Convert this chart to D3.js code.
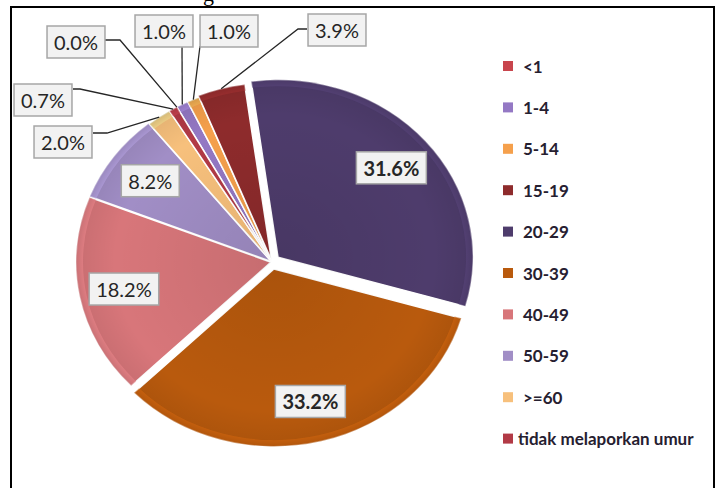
<!DOCTYPE html>
<html>
<head>
<meta charset="utf-8">
<script src="https://cdn.jsdelivr.net/npm/d3@7"></script>
<style>
  body { margin: 0; background: #fff; }
  svg { display: block; }
</style>
</head>
<body>
<script>
// data
var categories = ["<1", "1-4", "5-14", "15-19", "20-29", "30-39", "40-49", "50-59", ">=60", "tidak melaporkan umur"];
var values = [0.0, 1.0, 1.0, 3.9, 31.6, 33.2, 18.2, 8.2, 2.0, 0.7];
var labels = ["0.0%", "1.0%", "1.0%", "3.9%", "31.6%", "33.2%", "18.2%", "8.2%", "2.0%", "0.7%"];
var colors = ["#c8454d", "#9478c4", "#f5a04c", "#8e2b2c", "#4e3c6c", "#b95a0d", "#d8767a", "#a18ec6", "#f7c07c", "#b23a46"];

// chart layout
var W = 716, H = 488;
var cx = 272, cy = 262, R = 195, tilt = 0.91;
var startDeg = -29.2;
var explode = [0, 0, 0, 2, 8, 8, 1, 1, 0, 0];
// which labels sit inside the slice (true) or outside in a box with a leader line
var inside = [false, false, false, false, true, true, true, true, false, false];
// outside label boxes: centre, leader anchor offset, horizontal elbow length
var outside = {
  0: {x: 76,  y: 42,  ax: 29,  ay: -2,  elbow: 15},
  1: {x: 164, y: 31,  ax: 18,  ay: 15,  elbow: 0},
  2: {x: 229, y: 31,  ax: -29, ay: 15,  elbow: 0},
  3: {x: 337, y: 30,  ax: -30, ay: -1,  elbow: -9},
  8: {x: 63,  y: 142, ax: 30,  ay: -9,  elbow: 14},
  9: {x: 43,  y: 100, ax: 30,  ay: -11, elbow: 7}
};

var svg = d3.select("body").append("svg")
    .attr("width", W)
    .attr("height", H);

// frame around the picture
svg.append("rect")
    .attr("x", 11).attr("y", 7)
    .attr("width", 703).attr("height", 490)
    .attr("fill", "none")
    .attr("stroke", "#000")
    .attr("stroke-width", 2);

// cut-off caption above the frame (only its descender shows in the reference)
svg.append("text")
    .attr("x", 203).attr("y", 1)
    .style("font-family", "'Liberation Serif', serif")
    .style("font-size", "22px")
    .attr("fill", "#000")
    .text("g");

var pie = d3.pie()
    .sort(null)
    .value(function(d) { return d; })
    .startAngle(startDeg * Math.PI / 180)
    .endAngle(startDeg * Math.PI / 180 + 2 * Math.PI);

var arcs = pie(values);
var arc = d3.arc().innerRadius(0).outerRadius(R);
var rim = d3.arc().innerRadius(R - 7).outerRadius(R);

var pieG = svg.append("g")
    .attr("transform", "translate(" + cx + "," + cy + ") scale(1," + tilt + ")");

var slice = pieG.selectAll("g.slice")
    .data(arcs)
    .enter().append("g")
    .attr("class", "slice")
    .attr("transform", function(d, i) {
      var m = (d.startAngle + d.endAngle) / 2;
      return "translate(" + (explode[i] * Math.sin(m)) + "," + (-explode[i] * Math.cos(m)) + ")";
    });

slice.append("path")
    .attr("d", arc)
    .attr("fill", function(d, i) { return colors[i]; })
    .attr("stroke", "#fff")
    .attr("stroke-width", 1.5)
    .attr("vector-effect", "non-scaling-stroke");

// lighter bevel along the outer edge
slice.append("path")
    .attr("d", rim)
    .attr("fill", function(d, i) { return d3.color(colors[i]).brighter(0.6); })
    .attr("opacity", 0.55);

// soft shading toward the centre
var defs = svg.append("defs");
var grad = defs.append("radialGradient")
    .attr("id", "shade")
    .attr("gradientUnits", "userSpaceOnUse")
    .attr("cx", 0).attr("cy", 0).attr("r", R);
grad.append("stop").attr("offset", "0%").attr("stop-color", "#000").attr("stop-opacity", 0.08);
grad.append("stop").attr("offset", "80%").attr("stop-color", "#000").attr("stop-opacity", 0);
grad.append("stop").attr("offset", "96%").attr("stop-color", "#000").attr("stop-opacity", 0.06);
grad.append("stop").attr("offset", "100%").attr("stop-color", "#000").attr("stop-opacity", 0.15);

slice.append("path")
    .attr("d", arc)
    .attr("fill", "url(#shade)");

// convert a pie angle/radius into page coordinates
function toPage(a, r, i) {
  var d = arcs[i];
  var m = (d.startAngle + d.endAngle) / 2;
  var ox = explode[i] * Math.sin(m), oy = -explode[i] * Math.cos(m);
  return [cx + r * Math.sin(a) + ox, cy + (-r * Math.cos(a) + oy) * tilt];
}

var font = "Lato, 'Open Sans', sans-serif";

function drawBox(x, y, txt, bold) {
  var g = svg.append("g");
  var t = g.append("text")
      .attr("x", x).attr("y", y)
      .attr("text-anchor", "middle")
      .attr("dominant-baseline", "central")
      .style("font-family", font)
      .style("font-size", "20px")
      .style("font-weight", bold ? "bold" : "normal")
      .attr("fill", "#262626")
      .text(txt);
  var bb = t.node().getBBox();
  var w = bb.width + 14, h = 32;
  g.insert("rect", "text")
      .attr("x", x - w / 2).attr("y", y - h / 2)
      .attr("width", w).attr("height", h)
      .attr("fill", "#f2f2f2")
      .attr("stroke", "#a6a6a6")
      .attr("stroke-width", 1.5);
}

// leader lines first, then boxes on top
arcs.forEach(function(d, i) {
  if (inside[i]) return;
  var o = outside[i];
  var m = (d.startAngle + d.endAngle) / 2;
  var end = toPage(m, R, i);
  var sx = o.x + o.ax, sy = o.y + o.ay;
  var pts = [[sx, sy], [sx + o.elbow, sy], end];
  svg.append("path")
      .attr("d", d3.line()(pts))
      .attr("fill", "none")
      .attr("stroke", "#262626")
      .attr("stroke-width", 1.3);
});

arcs.forEach(function(d, i) {
  if (inside[i]) {
    var m = (d.startAngle + d.endAngle) / 2;
    var p = toPage(m, 150, i);
    drawBox(p[0], p[1], labels[i], values[i] > 30);
  } else {
    drawBox(outside[i].x, outside[i].y, labels[i], false);
  }
});

// legend
var legend = svg.append("g")
    .attr("transform", "translate(503,66)");

var row = legend.selectAll("g")
    .data(categories)
    .enter().append("g")
    .attr("transform", function(d, i) { return "translate(0," + (i * 41.4) + ")"; });

row.append("rect")
    .attr("x", 0).attr("y", -5)
    .attr("width", 10).attr("height", 10)
    .attr("fill", function(d, i) { return colors[i]; });

row.append("text")
    .attr("x", function(d, i) { return i === categories.length - 1 ? 15 : 20; })
    .attr("y", 0)
    .attr("dominant-baseline", "central")
    .style("font-family", font)
    .style("font-size", "17px")
    .style("font-weight", "bold")
    .attr("fill", "#262030")
    .text(function(d) { return d; });
</script>
</body>
</html>
